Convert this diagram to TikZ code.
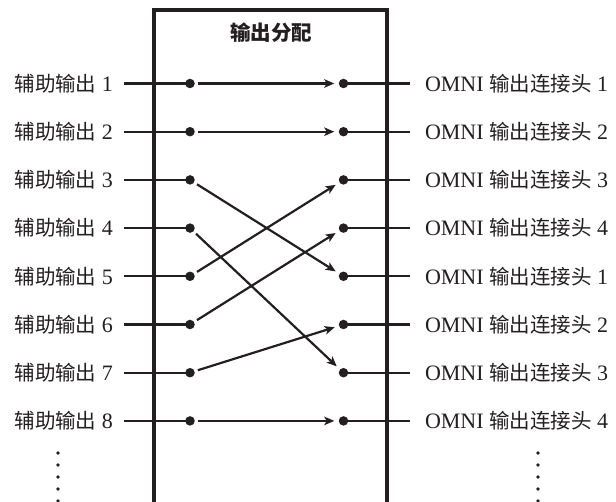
\documentclass[tikz,border=0pt]{standalone}
\usepackage{fontspec}
\setmainfont{Liberation Serif}
\newfontfamily\cjk{Noto Sans CJK SC}
\newcommand\zh[1]{{\fontsize{20.5}{24}\selectfont\cjk #1}}
\usetikzlibrary{arrows.meta}
\definecolor{ink}{HTML}{231F20}
\begin{document}
\begin{tikzpicture}[x=1pt,y=-1pt,
  every node/.style={text=ink},
  lbl/.style={font=\fontsize{22}{24}\selectfont, inner ysep=0pt, outer sep=0pt},
  llbl/.style={lbl, anchor=east, inner xsep=11pt},
  rlbl/.style={lbl, anchor=west, inner xsep=15pt},
  pin/.style={circle, fill=ink, draw=none, minimum size=9.5pt, inner sep=0pt, outer sep=0pt},
  wire/.style={draw=ink, line width=2.2pt},
  route/.style={draw=ink, line width=2.2pt, -{Stealth[length=10pt,width=8.5pt,inset=2.5pt]}, shorten <=3.5pt, shorten >=4.5pt},
  frame/.style={draw=ink, line width=4.5pt},
  vdot/.style={circle, fill=ink, minimum size=3.8pt, inner sep=0pt}
]
\useasboundingbox (0,0) rectangle (616,502);
% frame
\coordinate (fbl) at (154,504);
\coordinate (ftl) at (154,10);
\coordinate (ftr) at (387,10);
\coordinate (fbr) at (387,504);
\draw[frame] (fbl) -- (ftl) -- (ftr) -- (fbr);
\node[font=\fontsize{20.5}{24}\selectfont\cjk\bfseries] (title) at (271,33) {输出分配};
% rows
\foreach \i/\n in {1/1,2/2,3/3,4/4,5/1,6/2,7/3,8/4}{
  \pgfmathsetmacro{\yy}{83.5+(\i-1)*48.2}
  \node[llbl] (L\i) at (124,\yy) {\zh{辅助输出} \i};
  \node[pin] (a\i) at (190,\yy) {};
  \node[pin] (b\i) at (343.5,\yy) {};
  \node[rlbl] (R\i) at (410,\yy) {OMNI \zh{输出连接头} \n};
  \draw[wire] (L\i.east) -- (a\i.center);
  \draw[wire] (b\i.center) -- (R\i.west);
}
% routing
\draw[route] (a1) -- (b1);
\draw[route] (a2) -- (b2);
\draw[route] (a3) -- (b5);
\draw[route] (a4) -- (b7);
\draw[route] (a5) -- (b3);
\draw[route] (a6) -- (b4);
\draw[route] (a7) -- (b6);
\draw[route] (a8) -- (b8);
% continuation dots
\foreach \k in {0,...,4}{
  \node[vdot] (ld\k) at (58,453+\k*12) {};
  \node[vdot] (rd\k) at (538,453+\k*12) {};
}
\end{tikzpicture}
\end{document}
